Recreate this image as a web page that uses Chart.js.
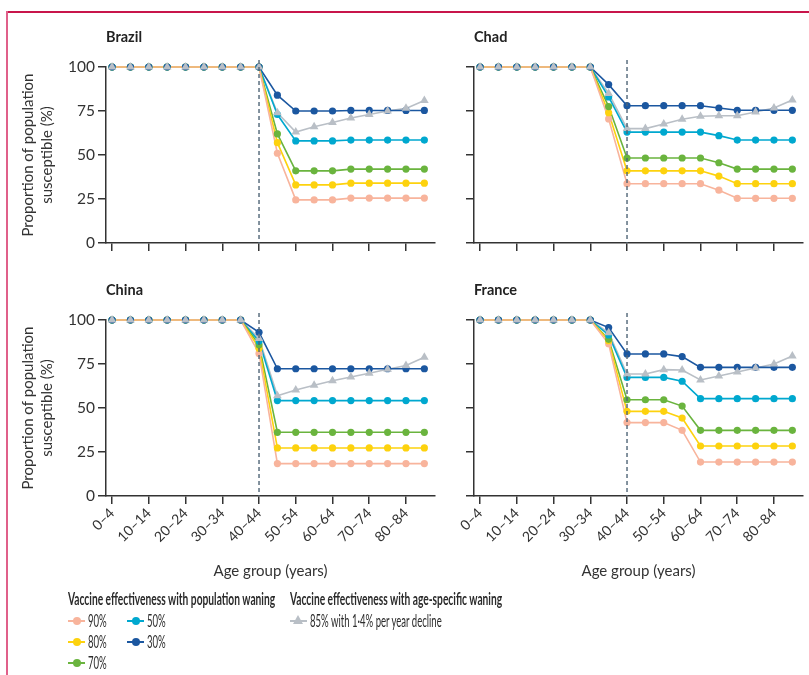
<!DOCTYPE html>
<html>
<head>
<meta charset="utf-8">
<script src="https://cdn.jsdelivr.net/npm/chart.js@4.4.0/dist/chart.umd.min.js"></script>
<style>
  body { margin: 0; background: #fff; overflow: hidden; }
  #wrap { position: relative; width: 809px; height: 675px; }
  .panel { position: absolute; }
  .frameTop { position: absolute; left: 7px; top: 11px; width: 802px; height: 1.5px; background: #c8154b; }
  .frameLeft { position: absolute; left: 6px; top: 11px; width: 1.5px; height: 664px; background: #e0608a; }
  .leg { position: absolute; font-family: Lato, "Open Sans", sans-serif; color: #2b2b2b; font-size: 16.5px; white-space: nowrap; }
  .legTitle { font-weight: bold; transform-origin: 0 50%; }
  .item { position: absolute; height: 16px; line-height: 16px; }
  .mk { position: absolute; left: 0; top: 7px; width: 17px; height: 1.5px; }
  .dot { position: absolute; left: 5px; top: -3.5px; width: 8px; height: 8px; border-radius: 50%; }
  .tri { position: absolute; left: 3px; top: -5px; width: 0; height: 0; border-left: 5.5px solid transparent; border-right: 5.5px solid transparent; border-bottom: 9px solid #b9bfc6; }
  .txt { position: absolute; left: 20px; top: 0; transform-origin: 0 50%; }
</style>
</head>
<body>
<div id="wrap">
  <div class="frameTop"></div>
  <div class="frameLeft"></div>
  <div class="panel" style="left:0px;top:0px;width:440px;height:260px"><canvas id="brazil"></canvas></div>
  <div class="panel" style="left:380px;top:0px;width:428px;height:260px"><canvas id="chad"></canvas></div>
  <div class="panel" style="left:0px;top:253px;width:440px;height:340px"><canvas id="china"></canvas></div>
  <div class="panel" style="left:380px;top:253px;width:428px;height:340px"><canvas id="france"></canvas></div>
  <div id="legend"></div>
</div>
<script>
// age groups on the x axis (labels shown every other group)
var ageGroups = ['0–4', '5–9', '10–14', '15–19', '20–24', '25–29', '30–34', '35–39', '40–44',
  '45–49', '50–54', '55–59', '60–64', '65–69', '70–74', '75–79', '80–84', '85–89']
var cutIndex = 8   // dashed line at 40–44
var yTicks = [0, 25, 50, 75, 100]

var seriesNames = ['90%', '80%', '70%', '50%', '30%', '85% with 1·4% per year decline']
var colors = ['#f8b49c', '#fdd20e', '#6ab43e', '#00a8cf', '#1b57a0', '#b9bfc6']

// Brazil
var brazil90 = [100, 100, 100, 100, 100, 100, 100, 100, 100, 51, 24.5, 24.5, 24.5, 25.5, 25.5, 25.5, 25.5, 25.5]
var brazil80 = [100, 100, 100, 100, 100, 100, 100, 100, 100, 57, 33, 33, 33, 34, 34, 34, 34, 34]
var brazil70 = [100, 100, 100, 100, 100, 100, 100, 100, 100, 62, 41, 41, 41, 42, 42, 42, 42, 42]
var brazil50 = [100, 100, 100, 100, 100, 100, 100, 100, 100, 73, 58, 58, 58, 58.5, 58.5, 58.5, 58.5, 58.5]
var brazil30 = [100, 100, 100, 100, 100, 100, 100, 100, 100, 84, 75, 75, 75, 75.3, 75.3, 75.3, 75.3, 75.3]
var brazilAge = [100, 100, 100, 100, 100, 100, 100, 100, 100, 74, 63, 66, 68.5, 71, 73, 75, 76.5, 81]

// Chad
var chad90 = [100, 100, 100, 100, 100, 100, 100, 70.5, 33.7, 33.7, 33.7, 33.7, 33.7, 30, 25.4, 25.4, 25.4, 25.4]
var chad80 = [100, 100, 100, 100, 100, 100, 100, 74, 41, 41, 41, 41, 41, 38, 33.7, 33.7, 33.7, 33.7]
var chad70 = [100, 100, 100, 100, 100, 100, 100, 77.5, 48.3, 48.3, 48.3, 48.3, 48.3, 45.6, 42, 42, 42, 42]
var chad50 = [100, 100, 100, 100, 100, 100, 100, 83, 63, 63, 63, 63, 63, 61, 58.5, 58.5, 58.5, 58.5]
var chad30 = [100, 100, 100, 100, 100, 100, 100, 90, 78, 78, 78, 78, 78, 76.7, 75.4, 75.4, 75.4, 75.4]
var chadAge = [100, 100, 100, 100, 100, 100, 100, 85, 65, 65, 67.6, 70.3, 72, 72.3, 72.3, 74.4, 76.7, 81.3]

// China
var china90 = [100, 100, 100, 100, 100, 100, 100, 100, 81, 18.4, 18.4, 18.4, 18.4, 18.4, 18.4, 18.4, 18.4, 18.4]
var china80 = [100, 100, 100, 100, 100, 100, 100, 100, 84, 27.3, 27.3, 27.3, 27.3, 27.3, 27.3, 27.3, 27.3, 27.3]
var china70 = [100, 100, 100, 100, 100, 100, 100, 100, 86, 36.2, 36.2, 36.2, 36.2, 36.2, 36.2, 36.2, 36.2, 36.2]
var china50 = [100, 100, 100, 100, 100, 100, 100, 100, 88, 54.2, 54.2, 54.2, 54.2, 54.2, 54.2, 54.2, 54.2, 54.2]
var china30 = [100, 100, 100, 100, 100, 100, 100, 100, 93, 72.3, 72.3, 72.3, 72.3, 72.3, 72.3, 72.3, 72.3, 72.3]
var chinaAge = [100, 100, 100, 100, 100, 100, 100, 100, 89.5, 57, 60.2, 62.9, 65.5, 67.6, 69.7, 72, 74.1, 78.8]

// France
var france90 = [100, 100, 100, 100, 100, 100, 100, 86.5, 41.7, 41.7, 41.7, 37.3, 19.3, 19.3, 19.3, 19.3, 19.3, 19.3]
var france80 = [100, 100, 100, 100, 100, 100, 100, 88.2, 48.1, 48.1, 48.1, 44.3, 28.4, 28.4, 28.4, 28.4, 28.4, 28.4]
var france70 = [100, 100, 100, 100, 100, 100, 100, 89, 54.7, 54.7, 54.7, 51.1, 37.3, 37.3, 37.3, 37.3, 37.3, 37.3]
var france50 = [100, 100, 100, 100, 100, 100, 100, 91.5, 67.4, 67.4, 67.4, 65.2, 55.3, 55.3, 55.3, 55.3, 55.3, 55.3]
var france30 = [100, 100, 100, 100, 100, 100, 100, 95.7, 80.7, 80.7, 80.7, 79.2, 73.1, 73.1, 73.1, 73.1, 73.1, 73.1]
var franceAge = [100, 100, 100, 100, 100, 100, 100, 92.7, 69.3, 69.3, 71.8, 71.6, 65.9, 68.2, 70.5, 72.7, 75, 79.5]

var ink = '#333'
var fontFam = 'Lato, "Open Sans", sans-serif'

// dashed vertical marker at the cut age group
var cutLine = {
  id: 'cutLine',
  afterDatasetsDraw: function(chart) {
    var ctx = chart.ctx, area = chart.chartArea
    var x = chart.scales.x.getPixelForValue(cutIndex)
    ctx.save()
    ctx.strokeStyle = '#4f6577'
    ctx.lineWidth = 1.4
    ctx.setLineDash([4, 3])
    ctx.beginPath()
    ctx.moveTo(x, area.top - 7)
    ctx.lineTo(x, area.bottom)
    ctx.stroke()
    ctx.restore()
  }
}

function buildSets(list) {
  var sets = []
  list.forEach(function(vals, i) {
    var pts = vals.map(function(v, k) { return { x: k, y: v } })
    // lines first (all under the markers), 90% line on top
    sets.push({ label: seriesNames[i], data: pts, borderColor: colors[i], borderWidth: 1.6,
      pointRadius: 0, order: 10 + i, clip: false })
    sets.push({ label: seriesNames[i], data: pts, showLine: false, backgroundColor: colors[i],
      borderWidth: 0, pointStyle: i == 5 ? 'triangle' : 'circle', pointRadius: i == 5 ? 5 : 3.6,
      order: 5 - i, clip: false })
  })
  return sets
}

function makePanel(id, name, list, leftSide, bottomRow) {
  new Chart(document.getElementById(id), {
    type: 'line',
    data: { datasets: buildSets(list) },
    plugins: [cutLine],
    options: {
      responsive: true,
      maintainAspectRatio: false,
      animation: false,
      layout: { padding: { right: 5 } },
      plugins: {
        legend: { display: false },
        tooltip: { enabled: false },
        title: {
          display: true, text: name, align: 'start', fullSize: false, color: '#222',
          font: { family: fontFam, size: 14.5, weight: 'bold' },
          padding: { top: 28.3, bottom: 21.3 }
        }
      },
      scales: {
        x: {
          type: 'linear', min: -0.33, max: 17.58,
          ticks: {
            display: bottomRow, stepSize: 2, includeBounds: false, autoSkip: false,
            maxRotation: 45, minRotation: 45, padding: 1, color: ink,
            font: { family: fontFam, size: 14 },
            callback: function(v) { return ageGroups[v] }
          },
          grid: { drawOnChartArea: false, tickLength: 8, color: ink, lineWidth: 1.5 },
          border: { color: ink, width: 1.5 },
          title: {
            display: bottomRow, text: 'Age group (years)', color: ink,
            font: { family: fontFam, size: 15 }, padding: { bottom: 13 }
          },
          afterFit: function(s) { s.height = bottomRow ? 97 : 17 }
        },
        y: {
          min: 0, max: 100,
          afterBuildTicks: function(s) { s.ticks = yTicks.map(function(v) { return { value: v } }) },
          ticks: { display: leftSide, padding: 3, color: ink, font: { family: fontFam, size: 15.5 } },
          grid: { drawOnChartArea: false, tickLength: 8, color: ink, lineWidth: 1.5 },
          border: { color: ink, width: 1.5 },
          title: {
            display: leftSide, text: ['Proportion of population', 'susceptible (%)'], color: ink,
            font: { family: fontFam, size: 15, lineHeight: 1.3 }, padding: { top: 18.3 }
          },
          afterFit: function(s) { s.width = leftSide ? 106 : 94 }
        }
      }
    }
  })
}

makePanel('brazil', 'Brazil', [brazil90, brazil80, brazil70, brazil50, brazil30, brazilAge], true, false)
makePanel('chad', 'Chad', [chad90, chad80, chad70, chad50, chad30, chadAge], false, false)
makePanel('china', 'China', [china90, china80, china70, china50, china30, chinaAge], true, true)
makePanel('france', 'France', [france90, france80, france70, france50, france30, franceAge], false, true)

// legend, laid out like the figure (the figure uses a condensed face, so squeeze the text)
var legend = document.getElementById('legend')
function addText(cls, text, left, top) {
  var d = document.createElement('div')
  d.className = 'leg ' + cls
  d.style.left = left + 'px'
  d.style.top = top + 'px'
  d.textContent = text
  legend.appendChild(d)
  return d
}
var t1 = addText('legTitle', 'Vaccine effectiveness with population waning', 68, 589)
var t2 = addText('legTitle', 'Vaccine effectiveness with age-specific waning', 290, 589)
var squeeze = 207 / t1.offsetWidth
t1.style.transform = 'scaleX(' + squeeze + ')'
t2.style.transform = 'scaleX(' + squeeze + ')'

var itemPos = [[68, 613], [68, 634], [68, 655], [127, 613], [127, 634], [290, 613]]
var spans = []
seriesNames.forEach(function(name, i) {
  var it = addText('item', '', itemPos[i][0], itemPos[i][1])
  var mk = document.createElement('div')
  mk.className = 'mk'
  mk.style.background = colors[i]
  var m = document.createElement('div')
  if (i == 5) { m.className = 'tri' } else { m.className = 'dot'; m.style.background = colors[i] }
  mk.appendChild(m)
  it.appendChild(mk)
  var t = document.createElement('span')
  t.className = 'txt'
  t.textContent = name
  it.appendChild(t)
  spans.push(t)
})
var itemSqueeze = 132 / spans[5].offsetWidth
spans.forEach(function(t) { t.style.transform = 'scaleX(' + itemSqueeze + ')' })
</script>
</body>
</html>
